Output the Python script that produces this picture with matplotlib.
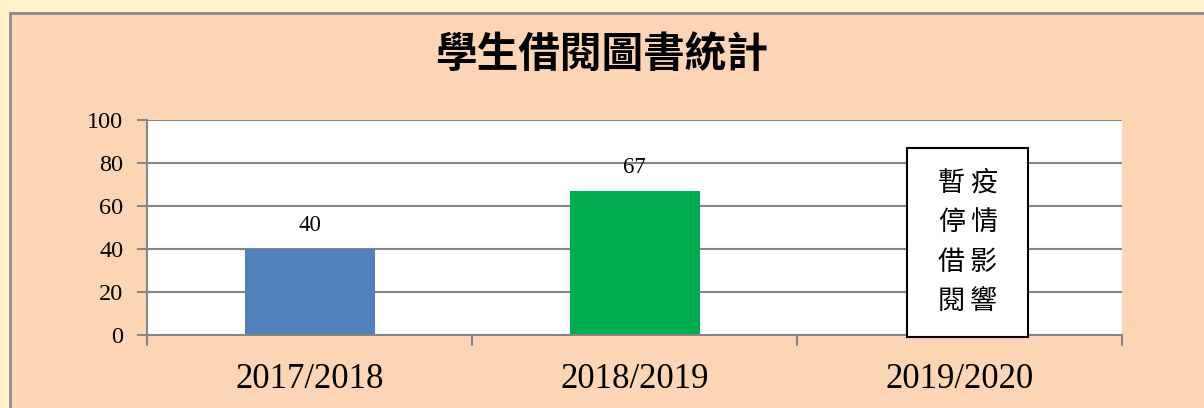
import matplotlib
matplotlib.use("Agg")
import matplotlib.pyplot as plt
from matplotlib.patches import Rectangle
import numpy as np

# data
years = ["2017/2018", "2018/2019", "2019/2020"]
borrowed = [40, 67, None]
bar_colors = ["#4F81BD", "#00AD4E", "#FFFFFF"]
title = "學生借閱圖書統計"
note_left = ["暫", "停", "借", "閱"]
note_right = ["疫", "情", "影", "響"]
y_ticks = [0, 20, 40, 60, 80, 100]

CJK = ["Noto Sans CJK TC", "DejaVu Sans"]
SERIF = ["Liberation Serif", "DejaVu Serif"]

fig = plt.figure(figsize=(12.04, 4.08), dpi=100)
fig.patch.set_facecolor("#FFF2CC")

# peach chart panel with grey frame
panel = Rectangle((10 / 1204, -0.2), 1.2, 1.2 - 12.5 / 408,
                  transform=fig.transFigure, facecolor="#FCD5B4",
                  edgecolor="#8C8C8C", linewidth=2, zorder=-5)
fig.patches.append(panel)

ax = fig.add_axes([147 / 1204, 1 - 335 / 408, 975 / 1204, 215 / 408])
ax.set_facecolor("white")

x = np.arange(len(years))
vals = [v if v is not None else 0 for v in borrowed]
bars = ax.bar(x, vals, width=0.4, color=bar_colors, zorder=3)

for xi, v in zip(x, borrowed):
    if v is None:
        continue
    ax.annotate(str(v), (xi, v), xytext=(0, 17), textcoords="offset points",
                ha="center", va="center", fontsize=16.5, family=SERIF, zorder=4)

ax.set_xlim(-0.5, len(years) - 0.5)
ax.set_ylim(0, 100)
ax.set_yticks(y_ticks)
ax.set_yticklabels([str(t) for t in y_ticks], family=SERIF, fontsize=17.5)
ax.set_xticks(x)
ax.set_xticklabels(years, family=SERIF, fontsize=25)
ax.set_xticks(np.arange(-0.5, len(years)), minor=True)
ax.tick_params(axis="x", which="major", length=0, pad=20)
ax.tick_params(axis="x", which="minor", length=8, width=1.5, color="#868686", direction="out")
ax.tick_params(axis="y", length=7, width=1.5, color="#868686", pad=10)

ax.grid(axis="y", color="#868686", linewidth=1.5, zorder=1)
ax.set_axisbelow(True)
for s in ["top", "right"]:
    ax.spines[s].set_visible(False)
for s in ["left", "bottom"]:
    ax.spines[s].set_color("#868686")
    ax.spines[s].set_linewidth(1.5)
    ax.spines[s].set_zorder(5)

# note box over the 2019/2020 column
box_x0, box_x1, box_y0, box_y1 = 1.838, 2.211, -1, 87
ax.add_patch(Rectangle((box_x0, box_y0), box_x1 - box_x0, box_y1 - box_y0,
                       facecolor="white", edgecolor="black", linewidth=1.5,
                       zorder=6, clip_on=False))
box_cx, box_cy = (box_x0 + box_x1) / 2, (box_y0 + box_y1) / 2
for col, dx in [(note_left, -11.5), (note_right, 11.5)]:
    ax.annotate("\n".join(col), (box_cx, box_cy), xytext=(dx, 0),
                textcoords="offset points", ha="center", va="center",
                fontsize=19.5, family=CJK, linespacing=1.6, zorder=7)

fig.text(0.5, 1 - 55 / 408, title, ha="center", va="center",
         fontsize=30, fontweight="bold", family=CJK)

fig.savefig("out.png", dpi=100, facecolor=fig.get_facecolor())
